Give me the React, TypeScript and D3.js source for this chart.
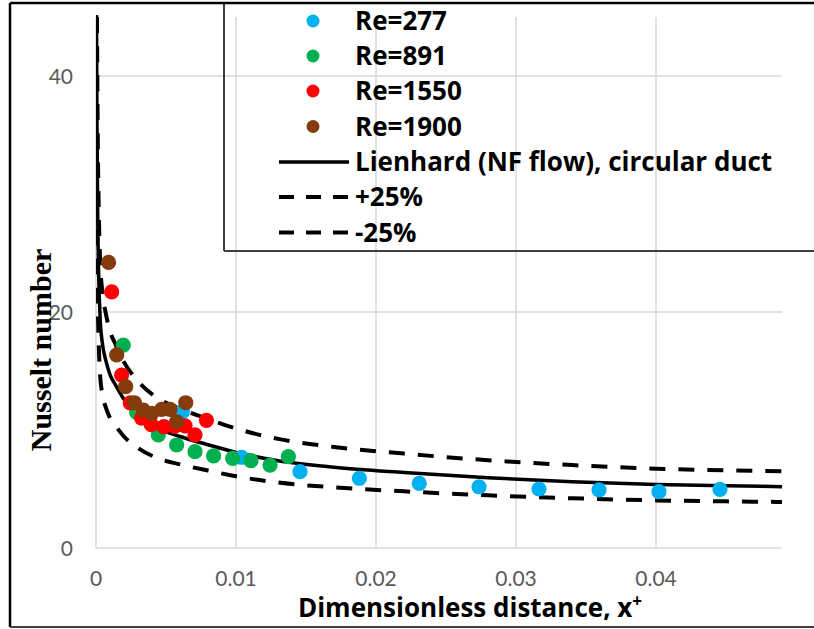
import React from 'react';
import * as d3 from 'd3';

const W = 814;
const H = 629;
const plot = { left: 96, right: 782, top: 17, bottom: 548 };

const xTicks = [0, 0.01, 0.02, 0.03, 0.04];
const xTickLabels = ['0', '0.01', '0.02', '0.03', '0.04'];
const yTicks = [0, 20, 40];
const yTickLabels = ['0', '20', '40'];

const re277X = [0.00617, 0.0104, 0.01457, 0.01881, 0.02309, 0.02736, 0.03164, 0.03593, 0.04021, 0.04457];
const re277Nu = [11.55, 7.69, 6.47, 5.91, 5.48, 5.19, 5.0, 4.92, 4.77, 4.97];

const re891X = [0.00195, 0.0029, 0.00445, 0.00576, 0.00707, 0.0084, 0.00976, 0.01107, 0.01243, 0.01374];
const re891Nu = [17.2, 11.5, 9.58, 8.73, 8.16, 7.8, 7.6, 7.4, 7.03, 7.74];

const re1550X = [0.00112, 0.00183, 0.00245, 0.00326, 0.00395, 0.00485, 0.0056, 0.00636, 0.00707, 0.00789];
const re1550Nu = [21.7, 14.66, 12.3, 11.0, 10.45, 10.28, 10.3, 10.35, 9.58, 10.82];

const re1900X = [0.0009, 0.00148, 0.00212, 0.00274, 0.00338, 0.00398, 0.00469, 0.00529, 0.00576, 0.00641];
const re1900Nu = [24.2, 16.36, 13.67, 12.31, 11.69, 11.41, 11.75, 11.75, 10.7, 12.31];

// Lienhard correlation curve
const lienX = [0.00003, 0.00007, 0.00012, 0.0002, 0.0003, 0.00045, 0.0007, 0.001, 0.0014, 0.002, 0.003, 0.0045, 0.006, 0.008, 0.01, 0.013, 0.017, 0.022, 0.028, 0.034, 0.04, 0.045, 0.049];
const lienNu = [47, 36, 28.5, 22.8, 19.4, 17.4, 15.9, 14.7, 13.8, 12.6, 11.3, 10.1, 9.45, 8.75, 8.1, 7.4, 6.85, 6.4, 5.95, 5.62, 5.38, 5.27, 5.2];
const bandFactors = [1.25, 0.75];
const bandStart = 1;

const seriesNames = ['Re=277', 'Re=891', 'Re=1550', 'Re=1900'];
const seriesColors = ['#00B0F0', '#00B050', '#FF0000', '#843C0C'];
const lineNames = ['Lienhard (NF flow), circular duct', '+25%', '-25%'];

export default function App() {
  const x = d3.scaleLinear().domain([0, 0.049]).range([plot.left, plot.right]);
  const y = d3.scaleLinear().domain([0, 45]).range([plot.bottom, plot.top]);

  const line = d3
    .line<[number, number]>()
    .x((d) => x(d[0]))
    .y((d) => y(d[1]))
    .curve(d3.curveMonotoneX);

  const solid = lienX.map((v, i) => [v, lienNu[i]] as [number, number]);
  const bands = bandFactors.map((f) =>
    lienX.slice(bandStart).map((v, i) => [v, lienNu[i + bandStart] * f] as [number, number])
  );

  const series = [
    { xs: re277X, ys: re277Nu },
    { xs: re891X, ys: re891Nu },
    { xs: re1550X, ys: re1550Nu },
    { xs: re1900X, ys: re1900Nu },
  ];

  const sans = 'Lato, "Open Sans", sans-serif';
  const bold = '"Open Sans", Roboto, sans-serif';
  const gridColor = '#D9D9D9';
  const legendRowY = [21, 56, 91, 126.5, 162, 197, 232.5];

  return (
    <svg
      width={W}
      height={H}
      viewBox={`0 0 ${W} ${H}`}
      style={{ position: 'absolute', left: 0, top: 0, background: '#fff' }}
    >
      <defs>
        <clipPath id="plotClip">
          <rect x={plot.left} y={plot.top - 2} width={plot.right - plot.left + 2} height={plot.bottom - plot.top + 2} />
        </clipPath>
      </defs>
      <rect x={0} y={0} width={W} height={H} fill="#fff" />

      {/* gridlines */}
      {xTicks.slice(1).map((t) => (
        <line key={'gx' + t} x1={x(t)} x2={x(t)} y1={plot.top} y2={plot.bottom} stroke={gridColor} strokeWidth={1.5} />
      ))}
      {yTicks.slice(1).map((t) => (
        <line key={'gy' + t} x1={plot.left} x2={plot.right} y1={y(t)} y2={y(t)} stroke={gridColor} strokeWidth={1.5} />
      ))}
      {/* axes */}
      <line x1={plot.left} x2={plot.left} y1={plot.top} y2={plot.bottom} stroke={gridColor} strokeWidth={1.5} />
      <line x1={plot.left} x2={plot.right} y1={plot.bottom} y2={plot.bottom} stroke={gridColor} strokeWidth={1.5} />

      {/* tick labels */}
      {xTicks.map((t, i) => (
        <text key={'xt' + t} x={x(t)} y={586} textAnchor="middle" fontFamily={sans} fontSize={21} fill="#595959">
          {xTickLabels[i]}
        </text>
      ))}
      {yTicks.map((t, i) => (
        <text key={'yt' + t} x={73} y={y(t) + 7.5} textAnchor="end" fontFamily={sans} fontSize={21} fill="#595959">
          {yTickLabels[i]}
        </text>
      ))}

      {/* curves */}
      <g clipPath="url(#plotClip)">
        {bands.map((b, i) => (
          <path key={'band' + i} d={line(b) || ''} fill="none" stroke="#000" strokeWidth={4} strokeDasharray="16,13" />
        ))}
        <path d={line(solid) || ''} fill="none" stroke="#000" strokeWidth={3.5} />
      </g>

      {/* points */}
      {series.map((s, si) => (
        <g key={'s' + si}>
          {s.xs.map((xv, i) => (
            <circle key={i} cx={x(xv)} cy={y(s.ys[i])} r={7.6} fill={seriesColors[si]} />
          ))}
        </g>
      ))}

      {/* axis titles */}
      <text x={470} y={617} textAnchor="middle" fontFamily={bold} fontWeight="bold" fontSize={26} fill="#000">
        Dimensionless distance, x
        <tspan fontSize={17} dy={-10}>+</tspan>
      </text>
      <text
        transform="translate(51,350) rotate(-90)"
        textAnchor="middle"
        fontFamily='"Liberation Serif", "Times New Roman", serif'
        fontWeight="bold"
        fontSize={30}
        fill="#000"
      >
        Nusselt number
      </text>

      {/* legend */}
      <line x1={224} x2={W + 5} y1={251} y2={251} stroke="#404040" strokeWidth={2} />
      <line x1={224} x2={224} y1={3} y2={251} stroke="#404040" strokeWidth={2} />
      {seriesNames.map((n, i) => (
        <g key={'lg' + i}>
          <circle cx={313} cy={legendRowY[i]} r={6.5} fill={seriesColors[i]} />
          <text x={355} y={legendRowY[i] + 9} fontFamily={bold} fontWeight="bold" fontSize={26} fill="#000">
            {n}
          </text>
        </g>
      ))}
      {lineNames.map((n, i) => {
        const yy = legendRowY[i + 4];
        return (
          <g key={'ll' + i}>
            <line
              x1={279}
              x2={349}
              y1={yy}
              y2={yy}
              stroke="#000"
              strokeWidth={i === 0 ? 3.5 : 4}
              strokeDasharray={i === 0 ? undefined : '15,12'}
            />
            <text x={355} y={yy + 9} fontFamily={bold} fontWeight="bold" fontSize={26} fill="#000">
              {n}
            </text>
          </g>
        );
      })}

      {/* outer border */}
      <line x1={10} x2={W + 5} y1={3} y2={3} stroke="#000" strokeWidth={2.5} />
      <line x1={10} x2={10} y1={3} y2={627} stroke="#000" strokeWidth={2.5} />
      <line x1={10} x2={W + 5} y1={627} y2={627} stroke="#404040" strokeWidth={2} />
    </svg>
  );
}
